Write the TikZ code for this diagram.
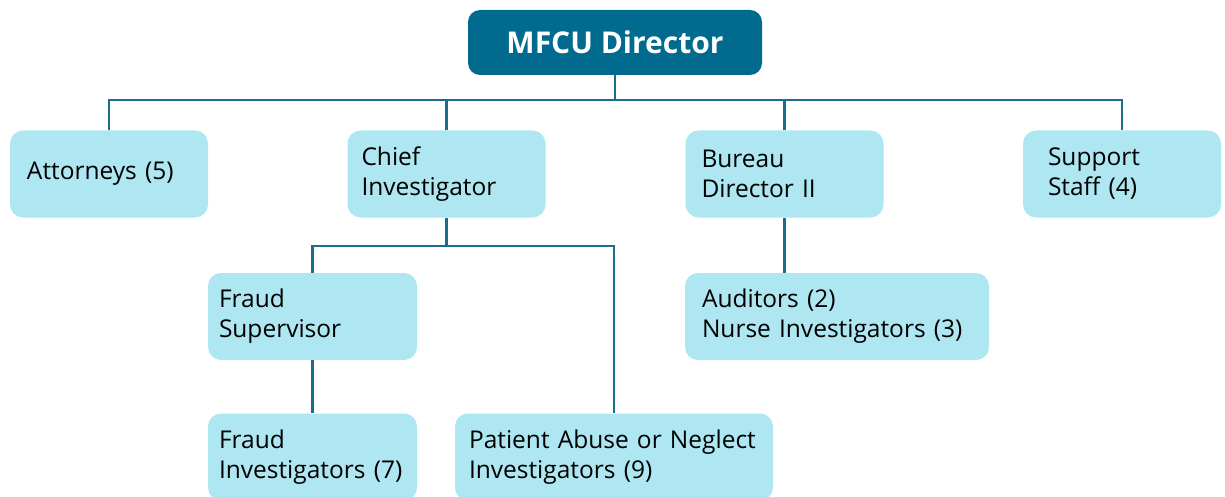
\documentclass[tikz,border=0pt]{standalone}
\usepackage{fontspec}
\setmainfont{Open Sans}
\usepackage{tikz}
\definecolor{topblue}{HTML}{006B8F}
\definecolor{boxblue}{HTML}{AEE7F1}
\definecolor{linkblue}{HTML}{1B6D8C}
\tikzstyle{head} = [rectangle, rounded corners=12pt, fill=topblue, text=white, minimum width=294pt, minimum height=65pt, font=\fontsize{30}{35}\selectfont\bfseries]
\tikzstyle{box} = [rectangle, rounded corners=13pt, fill=boxblue, minimum height=87pt, inner xsep=14pt, text width=170pt, align=left, font=\fontsize{24.5}{30}\selectfont]
\tikzstyle{link} = [draw=linkblue, line width=2.9pt]

\begin{document}
\begin{tikzpicture}[x=1pt,y=-1pt]
    \useasboundingbox (0,0) rectangle (1225,497);
    \node at (615,42.5) [head] (director) {MFCU Director};

    \node at (109,174) [box,inner xsep=17pt,text width=164pt] (attorneys) {Attorneys (5)};
    \node at (446.5,174) [box] (chief) {Chief\\Investigator};
    \node at (784.5,174) [box,inner xsep=16pt,text width=166pt] (bureau) {Bureau\\Director II};
    \node at (1122,174) [box,inner xsep=25pt,text width=148pt] (support) {Support\\Staff (4)};

    \node at (312.5,316.5) [box,inner xsep=11pt,text width=187pt] (fraudsup) {Fraud\\Supervisor};
    \node at (837,316.5) [box,inner xsep=17pt,text width=270pt] (auditors) {Auditors (2)\\Nurse Investigators (3)};

    \node at (312.5,457) [box,inner xsep=11pt,text width=187pt] (fraudinv) {Fraud\\Investigators (7)};
    \node at (614,457) [box,text width=290pt] (patient) {Patient Abuse or Neglect\\Investigators (9)};

    \coordinate (bus1) at (615,100);
    \coordinate (bus2) at (446.5,246);

    \draw[link] (director) -- (bus1);
    \draw[link] (attorneys) |- (bus1) -| (support);
    \draw[link] (chief) -- (chief |- bus1);
    \draw[link] (bureau) -- (bureau |- bus1);
    \draw[link] (chief) -- (bus2);
    \draw[link] (fraudsup) |- (bus2) -| (patient);
    \draw[link] (fraudsup) -- (fraudinv);
    \draw[link] (bureau) -- (bureau |- auditors.north);

    \end{tikzpicture}
\end{document}
